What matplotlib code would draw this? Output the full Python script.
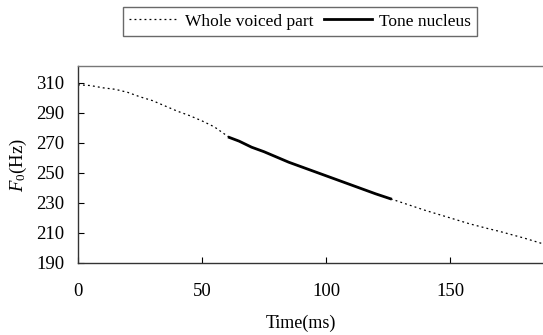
import matplotlib
matplotlib.use("Agg")
import matplotlib.pyplot as plt

plt.rcParams['font.family'] = ['Liberation Serif', 'DejaVu Serif']
plt.rcParams['mathtext.fontset'] = 'custom'
plt.rcParams['mathtext.rm'] = 'Liberation Serif'
plt.rcParams['mathtext.it'] = 'Liberation Serif:italic'

# whole voiced part (ms, Hz)
t_whole = [0, 5, 10, 15, 20, 25, 30, 35, 40, 45, 50, 55, 61,
           65, 70, 75, 80, 85, 90, 95, 100, 105, 110, 115, 120, 126,
           130, 140, 150, 158, 165, 170, 180, 187]
f_whole = [308.5, 308, 306.5, 305.5, 303.5, 300.5, 298, 294.5, 291, 288, 284.5, 280.5, 273.5,
           271, 267, 264, 260.5, 257, 254, 251, 248, 245, 242, 239, 236, 232.7,
           230.5, 225, 220, 216, 213, 211, 206.5, 203]

# tone nucleus
t_nuc = [61, 65, 70, 75, 80, 85, 90, 95, 100, 105, 110, 115, 120, 126]
f_nuc = [273.5, 271, 267, 264, 260.5, 257, 254, 251, 248, 245, 242, 239, 236, 232.7]

xticks = [0, 50, 100, 150]
yticks = [190, 210, 230, 250, 270, 290, 310]

fig = plt.figure(figsize=(5.43, 3.35), dpi=100)
ax = fig.add_axes([0.1436, 0.215, 0.8564, 0.588])

l1, = ax.plot(t_whole, f_whole, color='black', lw=0.9, ls=(0, (1.5, 2.5)))
l2, = ax.plot(t_nuc, f_nuc, color='black', lw=2.0)

ax.set_xlim(0, 187.5)
ax.set_ylim(190, 321)
ax.set_xticks(xticks)
ax.set_yticks(yticks)
ax.tick_params(direction='in', length=4, labelsize=13.5, colors='black')
ax.tick_params(axis='y', pad=10)
ax.tick_params(axis='x', pad=14.5)
for s in ['left', 'bottom', 'top']:
    ax.spines[s].set_color('#333333')
    ax.spines[s].set_linewidth(1.0)
ax.spines['top'].set_color('#777777')
ax.spines['right'].set_visible(False)

ax.set_xlabel('Time(ms)', fontsize=13)
ax.set_ylabel(r'$F_0$(Hz)', fontsize=13.5)
ax.xaxis.set_label_coords(0.48, -0.265)
ax.yaxis.set_label_coords(-0.106, 0.5)

leg = fig.legend([l1, l2], ['Whole voiced part', 'Tone nucleus'], ncol=2,
                 loc='center', bbox_to_anchor=(0.553, 0.936), fontsize=12.5,
                 frameon=True, fancybox=False, handlelength=2.8, handletextpad=0.4,
                 columnspacing=0.6, borderpad=0.35, borderaxespad=0)
leg.get_frame().set_edgecolor('#444444')
leg.get_frame().set_linewidth(1.0)

fig.savefig('out.png', dpi=100)
